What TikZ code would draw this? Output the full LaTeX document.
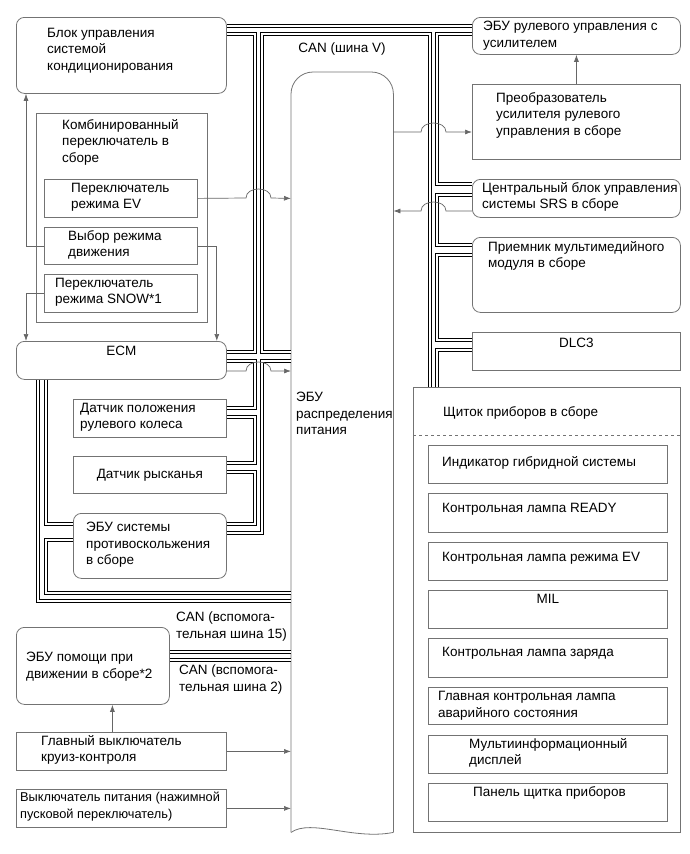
\documentclass[tikz,border=0pt]{standalone}
\usepackage{fontspec}
\setmainfont{Liberation Sans}
\usetikzlibrary{arrows.meta}

\definecolor{boxgray}{gray}{0.45}
\definecolor{siggray}{gray}{0.4}

\tikzset{
  box/.style={draw=boxgray, line width=0.8pt, anchor=north west, inner sep=0pt, font=\fontsize{13.5}{16.5}\selectfont},
  rbox/.style={box, rounded corners=8pt},
  lbl/.style={anchor=north west, align=left, inner sep=0pt, font=\fontsize{13.5}{16.5}\selectfont},
  clbl/.style={lbl, anchor=center, align=center},
  pair/.style={line width=1.5pt, double=white, double distance=1.5pt},
  sig/.style={draw=siggray, line width=0.7pt, -{Latex[length=7pt,width=5pt]}},
}

\begin{document}
\begin{tikzpicture}[x=1pt, y=-1pt]
\useasboundingbox (0,0) rectangle (690,854);

\node[rbox, minimum width=210, minimum height=76] (ac) at (16,17) {};
\node[box, minimum width=171, minimum height=209] (combo) at (36,113) {};
\node[box, minimum width=153, minimum height=38] (evsw) at (44,179) {};
\node[box, minimum width=153, minimum height=37] (drvsel) at (44,227) {};
\node[box, minimum width=153, minimum height=38] (snow) at (44,274) {};
\node[rbox, minimum width=210, minimum height=38] (ecm) at (16,341) {};
\node[box, minimum width=153, minimum height=38] (sas) at (73,399) {};
\node[box, minimum width=153, minimum height=37] (yaw) at (73,456) {Датчик рысканья};
\node[rbox, minimum width=153, minimum height=65] (abs) at (73,513) {};
\node[rbox, minimum width=153, minimum height=77] (pcs) at (16,627) {};
\node[box, minimum width=210, minimum height=38] (cruise) at (16,732) {};
\node[box, minimum width=210, minimum height=38] (pwr) at (16,789) {};

\node[rbox, minimum width=208, minimum height=37] (eps) at (472,17) {};
\node[box, minimum width=208, minimum height=75] (epsconv) at (472,84) {};
\node[rbox, minimum width=208, minimum height=38] (srs) at (472,179) {};
\node[rbox, minimum width=208, minimum height=75] (mm) at (472,237) {};
\node[box, minimum width=208, minimum height=38] (dlc) at (472,332) {};
\node[box, minimum width=267, minimum height=445] (meter) at (413,387) {};
\node[box, minimum width=239, minimum height=38] (m1) at (428,445) {};
\node[box, minimum width=239, minimum height=39] (m2) at (428,493) {};
\node[box, minimum width=239, minimum height=38] (m3) at (428,542) {};
\node[box, minimum width=239, minimum height=38] (m4) at (428,590) {};
\node[box, minimum width=239, minimum height=39] (m5) at (428,638) {};
\node[box, minimum width=239, minimum height=37] (m6) at (428,687) {};
\node[box, minimum width=239, minimum height=38] (m7) at (428,735) {};
\node[box, minimum width=239, minimum height=38] (m8) at (428,783) {};
\draw[boxgray, line width=0.8pt, dashed] ([yshift=-48pt]meter.north west) -- ([yshift=-48pt]meter.north east);

\node[anchor=north west, inner sep=0pt, minimum width=102, minimum height=760] (pdu) at (291,72) {};
\draw[boxgray, line width=0.8pt, rounded corners=22pt] (pdu.south west) -- (pdu.north west) -- (pdu.north east) -- (pdu.south east);
\draw[boxgray, line width=0.8pt] (pdu.south west) .. controls +(20,-14) and +(-40,8) .. (pdu.south east);

\node[lbl] at ([shift={(31,11)}]ac.north west) {Блок управления\\системой\\кондиционирования};
\node[lbl] at ([shift={(26,6)}]combo.north west) {Комбинированный\\переключатель в\\сборе};
\node[lbl] at ([shift={(27,4)}]evsw.north west) {Переключатель\\режима EV};
\node[lbl] at ([shift={(24,3)}]drvsel.north west) {Выбор режима\\движения};
\node[lbl] at ([shift={(11,4)}]snow.north west) {Переключатель\\режима SNOW*1};
\node[clbl] at ([yshift=-10pt]ecm.north) {ECM};
\node[lbl] at ([shift={(7,4)}]sas.north west) {Датчик положения\\рулевого колеса};
\node[lbl] at ([shift={(13,9)}]abs.north west) {ЭБУ системы\\противоскольжения\\в сборе};
\node[lbl] at ([shift={(10,25)}]pcs.north west) {ЭБУ помощи при\\движении в сборе*2};
\node[lbl] at ([shift={(25,3)}]cruise.north west) {Главный выключатель\\круиз-контроля};
\node[lbl, font=\fontsize{12.8}{16.5}\selectfont] at ([shift={(4,3)}]pwr.north west) {Выключатель питания (нажимной\\пусковой переключатель)};
\node[lbl] at ([shift={(11,4)}]eps.north west) {ЭБУ рулевого управления с\\усилителем};
\node[lbl] at ([shift={(24,8)}]epsconv.north west) {Преобразователь\\усилителя рулевого\\управления в сборе};
\node[lbl] at ([shift={(10,3)}]srs.north west) {Центральный блок управления\\системы SRS в сборе};
\node[lbl] at ([shift={(16,4)}]mm.north west) {Приемник мультимедийного\\модуля в сборе};
\node[clbl] at ([yshift=-11pt]dlc.north) {DLC3};
\node[lbl] at ([shift={(30,19)}]meter.north west) {Щиток приборов в сборе};
\node[lbl] at ([shift={(14,11)}]m1.north west) {Индикатор гибридной системы};
\node[lbl] at ([shift={(14,10)}]m2.north west) {Контрольная лампа READY};
\node[lbl] at ([shift={(14,10)}]m3.north west) {Контрольная лампа режима EV};
\node[clbl] at ([yshift=-9pt]m4.north) {MIL};
\node[lbl] at ([shift={(14,9)}]m5.north west) {Контрольная лампа заряда};
\node[lbl] at ([shift={(10,4)}]m6.north west) {Главная контрольная лампа\\аварийного состояния};
\node[lbl] at ([shift={(41,3)}]m7.north west) {Мультиинформационный\\дисплей};
\node[lbl] at ([shift={(45,3)}]m8.north west) {Панель щитка приборов};
\node[lbl] at ([shift={(5,320)}]pdu.north west) {ЭБУ\\распределения\\питания};

\node[clbl] (canv) at (342,49) {CAN (шина V)};
\node[lbl] (can15) at (176,612) {CAN (вспомога-\\тельная шина 15)};
\node[lbl] (can2) at (179,665) {CAN (вспомога-\\тельная шина 2)};

\draw[pair] ([yshift=-9pt]ac.north east) -- ([yshift=-9pt]eps.north west);
\draw[pair] ([yshift=-17pt]ac.north east) -- (255,34) -- (255,352) -- ([yshift=-11pt]ecm.north east);
\draw[pair] ([yshift=-280pt]pdu.north west) -- (262,352) -- (262,34) -- (430,34) -- ([xshift=17pt]meter.north west);
\draw[pair] ([yshift=-17pt]eps.north west) -- (437,34) -- (437,184) -- ([yshift=-5pt]srs.north west);
\draw[pair] ([yshift=-16pt]srs.north west) -- (437,195) -- (437,245) -- ([yshift=-8pt]mm.north west);
\draw[pair] ([yshift=-18pt]mm.north west) -- (437,255) -- (437,340) -- ([yshift=-8pt]dlc.north west);
\draw[pair] ([yshift=-18pt]dlc.north west) -- (437,350) -- ([xshift=24pt]meter.north west);
\draw[pair] ([yshift=-20pt]ecm.north east) -- (255,361) -- (255,408) -- ([yshift=-9pt]sas.north east);
\draw[pair] ([yshift=-18pt]sas.north east) -- (255,417) -- (255,463) -- ([yshift=-7pt]yaw.north east);
\draw[pair] ([yshift=-16pt]yaw.north east) -- (255,472) -- (255,524) -- ([yshift=-11pt]abs.north east);
\draw[pair] ([yshift=-289pt]pdu.north west) -- (262,361) -- (262,533) -- ([yshift=-20pt]abs.north east);
\draw[pair] ([xshift=30pt]ecm.south west) -- (46,524) -- ([yshift=-11pt]abs.north west);
\draw[pair] ([xshift=22pt]ecm.south west) -- (38,601) -- ([yshift=-529pt]pdu.north west);
\draw[pair] ([yshift=-27pt]abs.north west) -- (46,540) -- (46,593) -- ([yshift=-521pt]pdu.north west);
\draw[pair] ([yshift=-25pt]pcs.north east) -- ([yshift=-580pt]pdu.north west);
\draw[pair] ([yshift=-33pt]pcs.north east) -- ([yshift=-588pt]pdu.north west);

\coordinate (ecmout) at ([yshift=-30pt]ecm.north east);
\coordinate (convin) at ([yshift=-48pt]epsconv.north west);
\coordinate (srsout) at ([yshift=-32pt]srs.north west);
\draw[sig] (evsw.east) -- (246,198) .. controls (246,186) and (271,186) .. (271,198) -- (evsw.east -| pdu.west);
\draw[sig] (ecmout) -- (246,371) .. controls (246,359) and (271,359) .. (271,371) -- (ecmout -| pdu.west);
\draw[sig] (convin -| pdu.east) -- (421,132) .. controls (421,120) and (446,120) .. (446,132) -- (convin);
\draw[sig] (srsout) -- (446,211) .. controls (446,199) and (421,199) .. (421,211) -- (srsout -| pdu.east);
\draw[sig] (epsconv.north) -- (eps.south);
\draw[sig] (drvsel.west) -| ([xshift=10pt]ac.south west);
\draw[sig] (drvsel.east) -| ([xshift=-10pt]ecm.north east);
\draw[sig] (snow.west) -| ([xshift=10pt]ecm.north west);
\draw[sig] ([xshift=-9pt]cruise.north) -- ([xshift=-9pt]cruise.north |- pcs.south);
\draw[sig] (cruise.east) -- (cruise.east -| pdu.west);
\draw[sig] (pwr.east) -- (pwr.east -| pdu.west);

\end{tikzpicture}
\end{document}
